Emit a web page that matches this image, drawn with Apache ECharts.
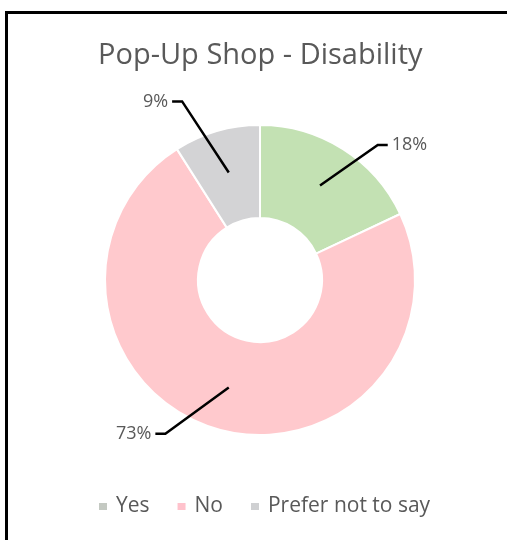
<!DOCTYPE html>
<html>
<head>
<meta charset="utf-8">
<script src="https://cdn.jsdelivr.net/npm/echarts@6/dist/echarts.min.js"></script>
<style>
  html, body { margin: 0; padding: 0; background: #fff; }
  #wrap { position: relative; width: 507px; height: 540px; overflow: hidden; }
  #chart { position: absolute; left: 0; top: 0; width: 507px; height: 540px; }
  #frame { position: absolute; left: 5px; top: 11px; width: 600px; height: 600px;
           border-left: 3px solid #000; border-top: 3px solid #000; pointer-events: none; }
</style>
</head>
<body>
<div id="wrap">
  <div id="chart"></div>
  <div id="frame"></div>
</div>
<script>
// Survey answers (percent of respondents)
const categories = ['Yes', 'No', 'Prefer not to say'];
const shares = [18, 73, 9];
const sliceColors = ['#c3e1b3', '#ffc9cd', '#d3d3d5'];
const legendColors = ['#c4c9c2', '#ffc2cc', '#cfd0d2'];
// Leader line lengths per slice: [first segment, horizontal segment]
const leaderLengths = [[48, 42], [48, 60], [74, 36]];

const font = '"Open Sans", "Noto Sans", sans-serif';
const textGrey = '#595959';
const elbow = 10; // length of the short horizontal tail next to each label

const ringData = categories.map((name, i) => ({
  name, value: shares[i], itemStyle: { color: sliceColors[i] }
}));

const labelData = categories.map((name, i) => ({
  name, value: shares[i],
  labelLine: { length: leaderLengths[i][0], length2: leaderLengths[i][1] }
}));

const chart = echarts.init(document.getElementById('chart'), null, { renderer: 'canvas' });
chart.setOption({
  animation: false,
  title: {
    text: 'Pop-Up Shop - Disability',
    left: 93, top: 36,
    textStyle: { fontFamily: font, fontSize: 29, fontWeight: 'normal', color: textGrey }
  },
  legend: {
    top: 496, left: 97, padding: 0,
    icon: 'rect', itemWidth: 10, itemHeight: 9, itemGap: 26,
    textStyle: { fontFamily: font, fontSize: 21, color: textGrey, padding: [0, 0, 0, 3] },
    data: categories.map((name, i) => ({ name, itemStyle: { color: legendColors[i] } }))
  },
  series: [
    {
      name: 'Disability',
      type: 'pie',
      center: [260, 280],
      radius: [62, 155],
      startAngle: 90,
      clockwise: true,
      silent: true,
      label: { show: false },
      labelLine: { show: false },
      itemStyle: { borderColor: '#fff', borderWidth: 2 },
      data: ringData
    },
    {
      // transparent copy carrying the percentage labels, lines start mid-ring
      name: 'labels',
      type: 'pie',
      center: [260, 280],
      radius: [0, 112],
      startAngle: 90,
      clockwise: true,
      silent: true,
      z: 5,
      legendHoverLink: false,
      itemStyle: { color: 'rgba(0,0,0,0)' },
      label: {
        show: true, position: 'outside',
        formatter: '{c}%',
        fontFamily: font, fontSize: 18, color: textGrey,
        distanceToLabelLine: 4
      },
      labelLine: { show: true, lineStyle: { color: '#000', width: 2.5 } },
      // straight diagonal leader with a short horizontal tail at the label
      labelLayout: function (params) {
        const pts = params.labelLinePoints;
        if (!pts || pts.length < 3) return {};
        const start = pts[0], end = pts[pts.length - 1];
        const dir = Math.sign(end[0] - pts[1][0]) || 1;
        return { labelLinePoints: [start, [end[0] - dir * elbow, end[1]], end] };
      },
      emphasis: { disabled: true },
      data: labelData
    }
  ]
});
</script>
</body>
</html>
